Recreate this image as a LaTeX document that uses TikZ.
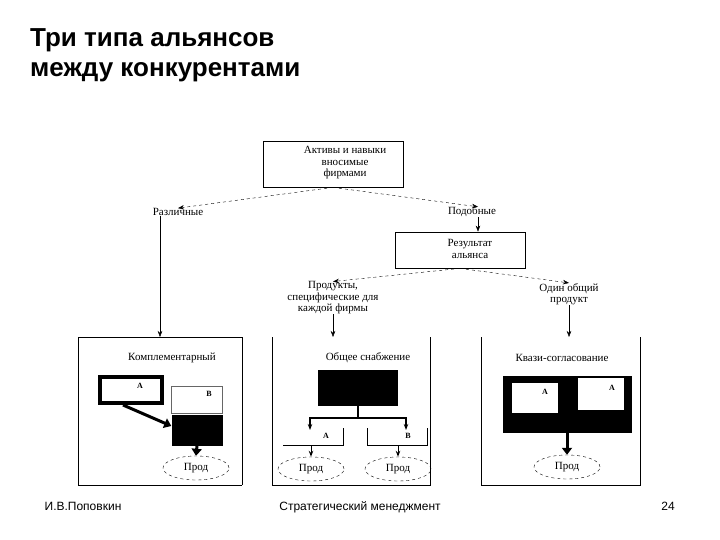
\documentclass[tikz,border=0pt]{standalone}
\usepackage{fontspec}
\setmainfont{Liberation Serif}
\newfontfamily\sansf{Liberation Sans}
\usetikzlibrary{arrows.meta,shapes.geometric}
\begin{document}
\begin{tikzpicture}[x=1pt,y=-1pt,
  txt/.style={font=\fontsize{11}{11.5}\selectfont,align=center,inner sep=0},
  bx/.style={draw,line width=0.8pt},
  dsh/.style={dashed,-{Stealth[length=6pt]}},
  ar/.style={-{Stealth[length=6pt]}},
  thk/.style={line width=3pt,-{Triangle[length=7pt,width=10pt]}},
  prod/.style={draw,dashed,ellipse,minimum width=66pt,minimum height=24pt,font=\fontsize{11}{12}\selectfont},
  lbl/.style={font=\bfseries\fontsize{8}{9}\selectfont,inner sep=0},
  foot/.style={font=\sansf\fontsize{12}{14}\selectfont,anchor=base,inner sep=0}]
\useasboundingbox (0,0) rectangle (720,540);
\node[font=\sansf\bfseries\fontsize{26}{30}\selectfont,align=left,anchor=north west,inner sep=0] (title) at (30,28) {Три типа альянсов\\между конкурентами};
\node[foot] (f1) at (83,510) {И.В.Поповкин};
\node[foot] (f2) at (360,510) {Стратегический менеджмент};
\node[foot] (f3) at (668,510) {24};
% top
\node[bx,minimum width=140pt,minimum height=46pt] (b1) at (333,164) {};
\node[txt] (t1) at (345,163) {Активы и навыки\\вносимые\\фирмами};
\node[txt] (dif) at (178,212) {Различные};
\node[txt] (sim) at (472,212) {Подобные};
\draw[dsh] (b1.south) -- (dif.north);
\draw[dsh] (b1.south) -- ([xshift=6pt]sim.north);
\node[bx,minimum width=130pt,minimum height=36pt] (b2) at (460,250) {};
\node[txt] (t2) at (470,249) {Результат\\альянса};
\draw[ar] ([xshift=6pt]sim.south) -- ([xshift=18pt]b2.north);
\node[txt] (spec) at (333,298) {Продукты,\\специфические для\\каждой фирмы};
\node[txt] (one) at (569,294) {Один общий\\продукт};
\draw[dsh] (b2.south) -- (spec.north);
\draw[dsh] (b2.south) -- (one.north);
\coordinate (p1t) at (160,337); \coordinate (p2t) at (333,337); \coordinate (p3t) at (569,337);
\draw[ar] ([xshift=-18pt]dif.south) -- (p1t);
\draw[ar] (spec.south) -- (p2t);
\draw[ar] (one.south) -- (p3t);
% panel 1
\draw (78,337) -- (242,337) (78,337) -- (78,485) -- (242,485) (242,337) -- (242,485);
\node[txt] (h1) at (172,358) {Комплементарный};
\node[draw,line width=4pt,minimum width=62pt,minimum height=26pt,inner sep=0] (a1) at (131,390) {};
\node[lbl] (la1) at (140,386) {A};
\node[draw=black!60,line width=0.4pt,minimum width=51pt,minimum height=27pt,inner sep=0] (b1w) at (197,400) {};
\node[lbl] (lb1) at (209,394) {B};
\node[fill=black,minimum width=51pt,minimum height=31pt,inner sep=0] (b1k) at (197,430) {};
\draw[thk] ([xshift=-8pt]a1.south) -- ([yshift=4pt]b1k.west);
\node[prod] (pr1) at (196,468) {Прод};
\draw[thk] (b1k.south) -- (pr1.north);
% panel 2
\draw (272,337) -- (272,485) -- (430,485) -- (430,337);
\node[txt] (h2) at (368,358) {Общее снабжение};
\node[fill=black,minimum width=80pt,minimum height=36pt,inner sep=0] (k2) at (358,388) {};
\coordinate (j2) at (358,418);
\draw[line width=2pt] (k2.south) -- (j2) (310,418) -- (406,418);
\coordinate (aa) at (310,430); \coordinate (bb) at (406,430);
\draw[line width=1.2pt,ar] (310,417) -- (aa);
\draw[line width=1.2pt,ar] (406,417) -- (bb);
\node[lbl] (la2) at (326,436) {A};
\node[lbl] (lb2) at (408,436) {B};
\draw (283,445) -- (343,445) -- (343,428);
\draw (367,428) -- (367,445) -- (427,445) -- (427,428);
\node[prod] (pr2) at (311,469) {Прод};
\node[prod] (pr3) at (398,469) {Прод};
\draw[line width=1pt,ar] (311,445) -- (pr2.north);
\draw[line width=1pt,ar] (398,445) -- (pr3.north);
% panel 3
\draw (481,337) -- (481,485) -- (640,485) -- (640,337);
\node[txt] (h3) at (562,358) {Квази-согласование};
\node[fill=black,minimum width=129pt,minimum height=57pt,inner sep=0] (k3) at (567,404) {};
\node[fill=white,minimum width=46pt,minimum height=30pt,inner sep=0] (w1) at (535,398) {};
\node[fill=white,minimum width=46pt,minimum height=32pt,inner sep=0] (w2) at (601,394) {};
\node[lbl] (la3) at (545,392) {A};
\node[lbl] (lb3) at (612,388) {A};
\node[prod] (pr4) at (567,467) {Прод};
\draw[thk] (k3.south) -- (pr4.north);
\end{tikzpicture}
\end{document}
